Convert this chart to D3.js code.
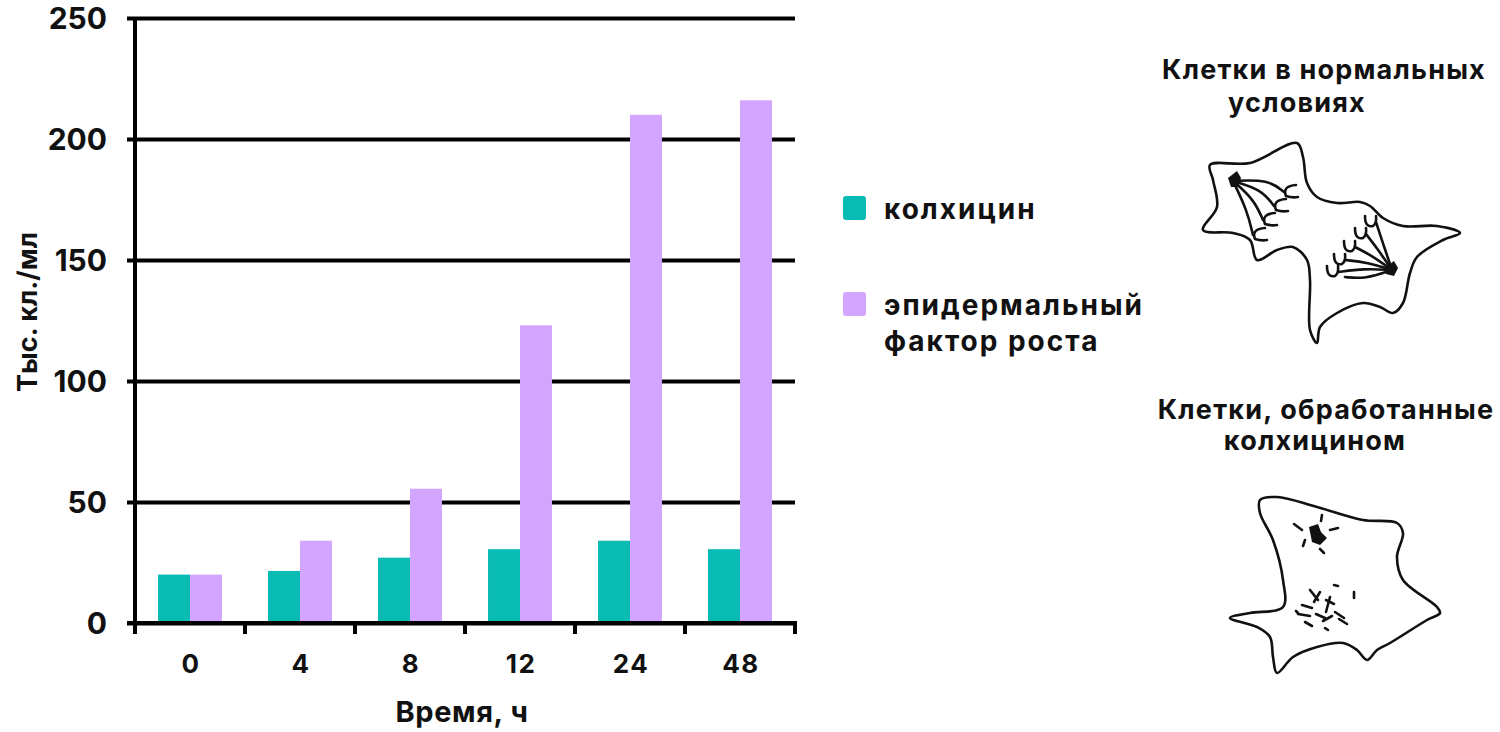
<!DOCTYPE html>
<html>
<head>
<meta charset="utf-8">
<script src="https://cdn.jsdelivr.net/npm/d3@7"></script>
<style>
  html, body { margin: 0; padding: 0; background: #fff; }
  svg { display: block; }
  text { font-family: Inter, "Open Sans", sans-serif; font-weight: 700; fill: #111; }
</style>
</head>
<body>
<svg id="chart" width="1500" height="732"></svg>
<script>
// ---------- data ----------
const categories = ["0", "4", "8", "12", "24", "48"];
const seriesNames = ["колхицин", "эпидермальный фактор роста"];
const colchicine = [20, 21.5, 27, 30.5, 34, 30.5];
const egf = [20, 34, 55.5, 123, 210, 216];
const yTicks = [0, 50, 100, 150, 200, 250];
const seriesColors = ["#08bcb4", "#d3a5fe"];
const yTitle = "Тыс. кл./мл";
const xTitle = "Время, ч";
const legendLines = [["колхицин"], ["эпидермальный", "фактор роста"]];
const captionNormal = ["Клетки в нормальных", "условиях"];
const captionColch = ["Клетки, обработанные", "колхицином"];

// decorative cell sketches
const cellNormalOutline = [[1210,165],[1250,163],[1297,143],[1303,157],[1307,183],[1317,197],[1337,203],[1360,202],[1370,206],[1383,218],[1403,226],[1437,226],[1460,233],[1443,240],[1417,257],[1410,273],[1403,303],[1393,313],[1380,307],[1363,303],[1337,313],[1320,327],[1317,343],[1310,330],[1310,280],[1307,260],[1293,247],[1277,250],[1257,260],[1250,240],[1233,233],[1203,230],[1217,207],[1213,180]];
const cellColchOutline = [[1260,500],[1277,497],[1317,507],[1363,520],[1397,523],[1403,533],[1397,557],[1403,580],[1437,607],[1440,613],[1427,620],[1390,643],[1377,650],[1367,660],[1357,650],[1343,643],[1317,647],[1293,657],[1277,673],[1273,657],[1270,637],[1257,627],[1230,618],[1250,613],[1283,607],[1283,580],[1273,540],[1260,513]];

const svg = d3.select("#chart");

// ---------- scales ----------
const plotLeft = 135, plotRight = 795, plotTop = 18, plotBottom = 623;
const x0 = d3.scaleBand().domain(categories).range([plotLeft, plotRight]).paddingInner(0).paddingOuter(0);
const x1 = d3.scaleBand().domain(seriesNames).range([0, x0.bandwidth()]).paddingInner(0).paddingOuter(0.72);
const y = d3.scaleLinear().domain([0, 250]).range([plotBottom, plotTop]);

// gridlines + y axis
const yAxis = d3.axisLeft(y).tickValues(yTicks).tickSize(-(plotRight - plotLeft)).tickSizeOuter(0).tickPadding(28);
const gy = svg.append("g").attr("transform", `translate(${plotLeft},0)`).call(yAxis);
gy.select(".domain").remove();
gy.selectAll(".tick line").attr("stroke", "#000").attr("stroke-width", 4).attr("x1", -8);
gy.selectAll(".tick text").style("font-size", "30px").style("font-family", "Inter, sans-serif").style("font-weight", "700").attr("fill", "#111").attr("dy", "0.36em");

// bars
const data = categories.map((c, i) => ({ cat: c, values: [colchicine[i], egf[i]] }));
const groups = svg.append("g").selectAll("g").data(data).join("g")
  .attr("transform", d => `translate(${x0(d.cat)},0)`);
groups.selectAll("rect").data(d => d.values.map((v, j) => ({ s: seriesNames[j], v, j }))).join("rect")
  .attr("x", d => x1(d.s))
  .attr("width", x1.bandwidth())
  .attr("y", d => y(d.v))
  .attr("height", d => y(0) - y(d.v))
  .attr("fill", d => seriesColors[d.j]);

// y axis line
svg.append("line").attr("x1", plotLeft).attr("x2", plotLeft).attr("y1", plotTop).attr("y2", plotBottom + 11)
  .attr("stroke", "#000").attr("stroke-width", 4);
// x axis line
svg.append("line").attr("x1", plotLeft - 8).attr("x2", plotRight + 2).attr("y1", plotBottom).attr("y2", plotBottom)
  .attr("stroke", "#000").attr("stroke-width", 4);
// x ticks at band boundaries
const boundaries = categories.map(c => x0(c)).concat([x0(categories[categories.length - 1]) + x0.bandwidth()]);
svg.append("g").selectAll("line").data(boundaries).join("line")
  .attr("x1", d => d).attr("x2", d => d).attr("y1", plotBottom).attr("y2", plotBottom + 11)
  .attr("stroke", "#000").attr("stroke-width", 4);
// x labels
svg.append("g").selectAll("text").data(categories).join("text")
  .attr("x", d => x0(d) + x0.bandwidth() / 2 + 1)
  .attr("y", 673)
  .attr("text-anchor", "middle")
  .style("font-size", "26px")
  .style("letter-spacing", "1.5px")
  .text(d => d);

// axis titles
svg.append("text").attr("x", 462).attr("y", 722).attr("text-anchor", "middle")
  .style("font-size", "29px").style("letter-spacing", "0.6px").text(xTitle);
svg.append("text").attr("transform", "translate(37,312) rotate(-90)").attr("text-anchor", "middle")
  .style("font-size", "27px").text(yTitle);

// legend
const legendY = [208, 304];
legendLines.forEach((lines, i) => {
  svg.append("rect").attr("x", 843).attr("y", legendY[i] - 12).attr("width", 23).attr("height", 24)
    .attr("rx", 3).attr("fill", seriesColors[i]);
  lines.forEach((t, k) => {
    svg.append("text").attr("x", 884).attr("y", legendY[i] + 11 + k * 36)
      .style("font-size", "28px").style("letter-spacing", "2px").text(t);
  });
});

// captions
const cap = (x, yy, t) => svg.append("text").attr("x", x).attr("y", yy).attr("text-anchor", "middle")
  .style("font-size", "27px").style("letter-spacing", "1.2px").text(t);
cap(1324, 79, captionNormal[0]);
cap(1297, 112, captionNormal[1]);
cap(1326, 419, captionColch[0]);
cap(1315, 450, captionColch[1]);

// cell sketches
const outline = d3.line().curve(d3.curveCatmullRomClosed.alpha(0.5));
const ink = svg.append("g").attr("fill", "none").attr("stroke", "#111").attr("stroke-width", 2.6).attr("stroke-linecap", "round");
ink.append("path").attr("d", outline(cellNormalOutline));
ink.append("path").attr("d", outline(cellColchOutline));

// spindle (normal cell)
const curve = d3.line().curve(d3.curveBasis);
const leftPole = [1233, 181];
const leftChrom = [[1292, 190], [1282, 204], [1271, 218], [1261, 233]];
leftChrom.forEach(([cx, cy], i) => {
  ink.append("path").attr("d", curve([leftPole, [(leftPole[0] + cx) / 2 + 6 - i * 2, (leftPole[1] + cy) / 2 - 6 + i * 3], [cx - 8, cy + 2]]));
  ink.append("path").attr("d", `M${cx + 4},${cy - 5} Q${cx - 10},${cy - 4} ${cx - 6},${cy + 6} Q${cx},${cy + 8} ${cx + 6},${cy + 7}`);
});
const rightPole = [1392, 270];
const rightChrom = [[1370, 221], [1360, 233], [1349, 246], [1339, 259], [1332, 271]];
rightChrom.forEach(([cx, cy], i) => {
  ink.append("path").attr("d", curve([rightPole, [(rightPole[0] + cx) / 2 + 2, (rightPole[1] + cy) / 2 - 2], [cx + 6, cy + 1]]));
  ink.append("path").attr("d", `M${cx - 5},${cy - 5} Q${cx - 5},${cy + 7} ${cx + 3},${cy + 5} Q${cx + 7},${cy + 2} ${cx + 6},${cy - 5}`);
});
ink.append("path").attr("d", curve([rightPole, [1365, 279], [1345, 277]]));
svg.append("path").attr("d", "M1228,178 L1237,171 L1241,178 L1238,187 L1231,187 Z").attr("fill", "#111");
svg.append("path").attr("d", "M1385,268 L1394,261 L1398,268 L1394,276 L1386,274 Z").attr("fill", "#111");

// colchicine cell: centrosome and scattered chromosomes
svg.append("path").attr("d", "M1309,527 L1318,524 L1321,532 L1327,538 L1320,545 L1312,542 Z").attr("fill", "#111");
const rays = [[1294,524,1302,530],[1322,515,1321,521],[1330,530,1338,528],[1305,540,1303,546],[1320,549,1324,553]];
rays.forEach(r => ink.append("line").attr("x1", r[0]).attr("y1", r[1]).attr("x2", r[2]).attr("y2", r[3]));
const bits = [[1310,590,1318,600],[1320,592,1314,602],[1326,600,1334,604],[1330,597,1326,612],[1302,605,1312,608],[1298,614,1310,616],[1316,614,1325,618],[1323,621,1332,616],[1305,622,1312,626],[1335,612,1344,618],[1334,585,1338,586],[1354,592,1354,598],[1296,611,1298,613],[1325,628,1328,630],[1339,619,1347,624]];
const inkThin = svg.append("g").attr("stroke", "#111").attr("stroke-width", 2.6).attr("stroke-linecap", "round");
bits.forEach(b => inkThin.append("line").attr("x1", b[0]).attr("y1", b[1]).attr("x2", b[2]).attr("y2", b[3]));
</script>
</body>
</html>
